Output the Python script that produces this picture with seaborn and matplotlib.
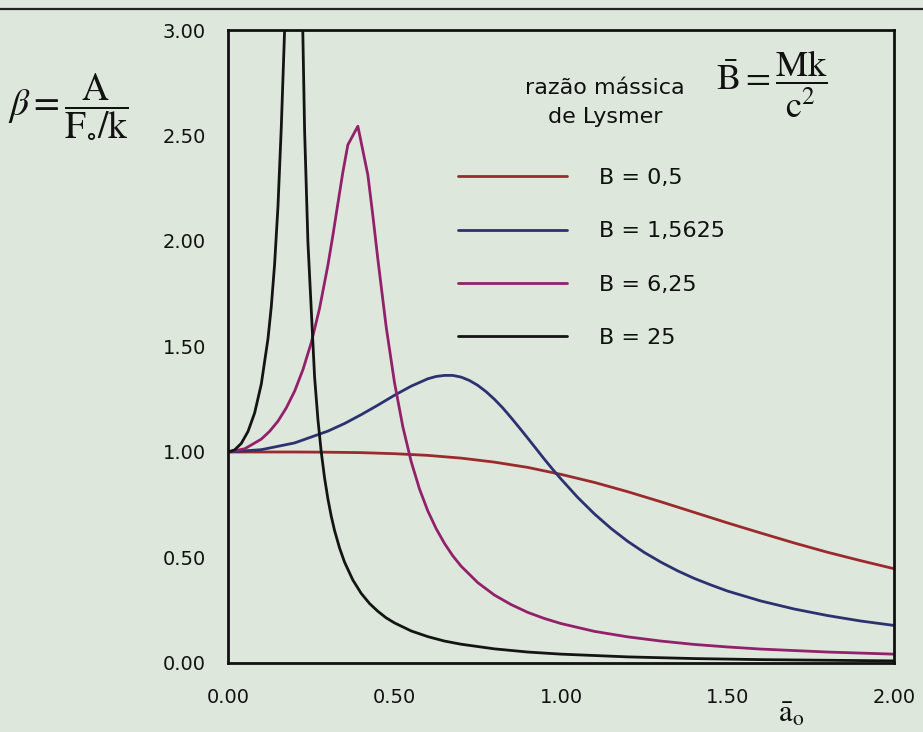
import matplotlib
matplotlib.use("Agg")
import matplotlib.pyplot as plt
from matplotlib.lines import Line2D
import numpy as np
import pandas as pd
import seaborn as sns

# ---- data ----
labels = ["B = 0,5", "B = 1,5625", "B = 6,25", "B = 25"]

a_red = [0.0, 0.1, 0.2, 0.3, 0.4, 0.5, 0.6, 0.7, 0.8, 0.9, 1.0,
         1.1, 1.2, 1.3, 1.4, 1.5, 1.6, 1.7, 1.8, 1.9, 2.0]
b_red = [1.0, 1.0, 1.0, 0.999, 0.997, 0.992, 0.984, 0.971, 0.952, 0.927, 0.894,
         0.856, 0.812, 0.764, 0.714, 0.664, 0.616, 0.569, 0.525, 0.485, 0.447]

a_blue = [0.0, 0.1, 0.2, 0.3, 0.35, 0.4, 0.45, 0.5, 0.55, 0.6, 0.625, 0.65,
          0.675, 0.7, 0.725, 0.75, 0.775, 0.8, 0.825, 0.85, 0.875, 0.9, 0.925,
          0.95, 0.975, 1.0, 1.05, 1.1, 1.15, 1.2, 1.25, 1.3, 1.35, 1.4, 1.45,
          1.5, 1.6, 1.7, 1.8, 1.9, 2.0]
b_blue = [1.0, 1.011, 1.043, 1.099, 1.135, 1.177, 1.222, 1.269, 1.312, 1.347,
          1.358, 1.363, 1.363, 1.355, 1.339, 1.316, 1.286, 1.25, 1.209, 1.163,
          1.115, 1.066, 1.016, 0.966, 0.918, 0.872, 0.785, 0.707, 0.638, 0.577,
          0.524, 0.478, 0.437, 0.401, 0.370, 0.341, 0.294, 0.256, 0.225, 0.199,
          0.178]

a_mag = [0.0, 0.05, 0.1, 0.125, 0.15, 0.175, 0.2, 0.225, 0.25, 0.275, 0.3,
         0.315, 0.33, 0.345, 0.36, 0.39, 0.42, 0.435, 0.45, 0.475, 0.5, 0.525,
         0.55, 0.575, 0.6, 0.625, 0.65, 0.675, 0.7, 0.75, 0.8, 0.85, 0.9, 0.95,
         1.0, 1.1, 1.2, 1.3, 1.4, 1.5, 1.6, 1.8, 2.0]
b_mag = [1.0, 1.015, 1.061, 1.098, 1.146, 1.209, 1.288, 1.390, 1.518, 1.681,
         1.885, 2.027, 2.178, 2.327, 2.456, 2.544, 2.313, 2.120, 1.914, 1.593,
         1.329, 1.120, 0.955, 0.825, 0.721, 0.637, 0.567, 0.508, 0.459, 0.381,
         0.322, 0.277, 0.240, 0.211, 0.187, 0.150, 0.124, 0.104, 0.088, 0.076,
         0.066, 0.052, 0.042]

a_blk = [0.0, 0.02, 0.04, 0.06, 0.08, 0.10, 0.12, 0.13, 0.14, 0.15, 0.16, 0.17,
         0.18, 0.20, 0.22, 0.23, 0.24, 0.26, 0.27, 0.28, 0.29, 0.30, 0.31, 0.32,
         0.335, 0.35, 0.375, 0.40, 0.425, 0.45, 0.475, 0.50, 0.55, 0.60, 0.65,
         0.70, 0.80, 0.90, 1.00, 1.20, 1.40, 1.60, 1.80, 2.00]
b_blk = [1.0, 1.010, 1.041, 1.097, 1.185, 1.322, 1.536, 1.689, 1.891, 2.162,
         2.538, 3.0, 3.821, 5.0, 3.40, 2.525, 1.995, 1.356, 1.155, 1.0, 0.877,
         0.778, 0.696, 0.628, 0.545, 0.478, 0.393, 0.330, 0.282, 0.245, 0.214,
         0.190, 0.152, 0.125, 0.104, 0.089, 0.067, 0.052, 0.042, 0.029, 0.021,
         0.016, 0.013, 0.010]

xticks = [0.0, 0.5, 1.0, 1.5, 2.0]
xticklabels = ["0.00", "0.50", "1.00", "1.50", "2.00"]
yticks = [0.0, 0.5, 1.0, 1.5, 2.0, 2.5, 3.0]
yticklabels = ["0.00", "0.50", "1.00", "1.50", "2.00", "2.50", "3.00"]

colors = ["#9a2a2c", "#2b3270", "#92206a", "#141414"]

# ---- build frame ----
frames = []
for lab, xs, ys in zip(labels, [a_red, a_blue, a_mag, a_blk],
                       [b_red, b_blue, b_mag, b_blk]):
    frames.append(pd.DataFrame({"a": xs, "beta": ys, "serie": lab}))
df = pd.concat(frames, ignore_index=True)

bg = "#dee7dc"
sns.set_theme(style="white")
plt.rcParams["font.family"] = ["DejaVu Sans"]
plt.rcParams["mathtext.fontset"] = "stix"

W, H = 923, 732
fig = plt.figure(figsize=(W / 100, H / 100), dpi=100, facecolor=bg)
L, R, T, Bm = 228, 894, 30, 663
ax = fig.add_axes([L / W, 1 - Bm / H, (R - L) / W, (Bm - T) / H])
ax.set_facecolor(bg)

sns.lineplot(data=df, x="a", y="beta", hue="serie", hue_order=labels,
             palette=dict(zip(labels, colors)), estimator=None, sort=False,
             linewidth=2.0, ax=ax)

ax.set_xlim(0, 2)
ax.set_ylim(0, 3)
ax.set_xticks(xticks)
ax.set_xticklabels(xticklabels)
ax.set_yticks(yticks)
ax.set_yticklabels(yticklabels)
ax.set_xlabel("")
ax.set_ylabel("")
ax.tick_params(axis="both", direction="in", length=10, width=1.6,
               colors="#111111", labelsize=14)
ax.tick_params(axis="y", pad=16)
ax.tick_params(axis="x", pad=18)
for s in ax.spines.values():
    s.set_visible(True)
    s.set_color("#111111")
    s.set_linewidth(2.0)

handles, hl = ax.get_legend_handles_labels()
leg = ax.legend(handles, hl, loc="upper left",
                bbox_to_anchor=(458 / W, 1 - 168 / H),
                bbox_transform=fig.transFigure,
                frameon=False, fontsize=16, handlelength=4.9,
                handletextpad=1.45, labelspacing=1.50, borderpad=0,
                borderaxespad=0)
for t in leg.get_texts():
    t.set_color("#111111")

# legend heading
fig.text(605 / W, 1 - 88 / H, "razão mássica", ha="center", va="center",
         fontsize=16, color="#111111")
fig.text(605 / W, 1 - 117 / H, "de Lysmer", ha="center", va="center",
         fontsize=16, color="#111111")
fig.text(716 / W, 1 - 84 / H,
         r"$\bar{\mathrm{B}} = \dfrac{\mathrm{Mk}}{\mathrm{c}^{2}}$",
         ha="left", va="center", fontsize=26, color="#111111")

# y-axis formula
fig.text(8 / W, 1 - 106 / H,
         r"$\beta = \dfrac{\mathrm{A}}{\mathrm{F}_{\circ}/\mathrm{k}}$",
         ha="left", va="center", fontsize=27, color="#111111")

# x-axis symbol
fig.text(778 / W, 1 - 713 / H, r"$\bar{\mathrm{a}}_{\mathrm{o}}$",
         ha="left", va="center", fontsize=22, color="#111111")

# page rule at the top of the scan
fig.add_artist(Line2D([0, 1], [1 - 9 / H, 1 - 9 / H], transform=fig.transFigure,
                      color="#222222", lw=1.6))

fig.savefig("out.png", dpi=100, facecolor=bg)
